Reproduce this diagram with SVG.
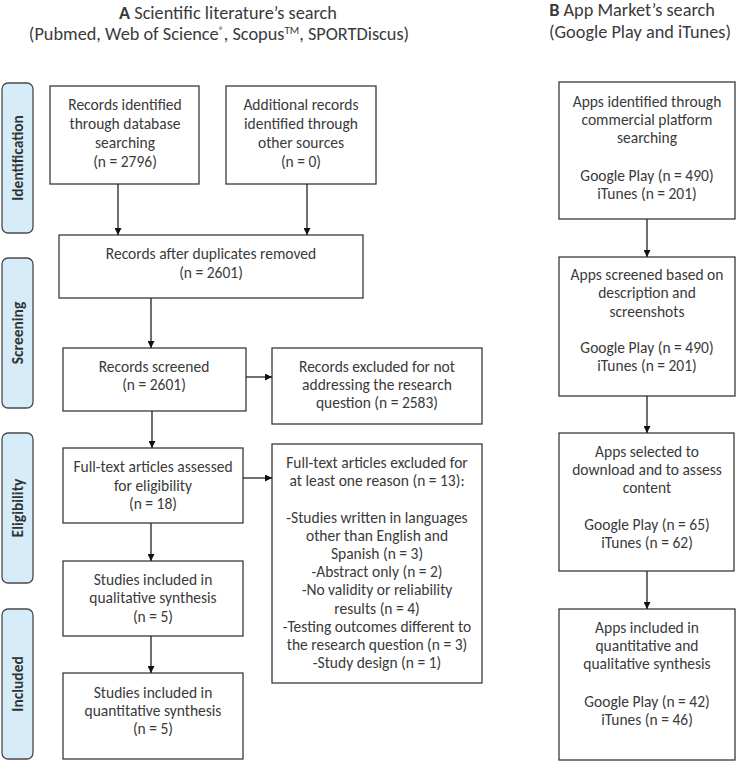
<svg xmlns="http://www.w3.org/2000/svg" width="738" height="762" viewBox="0 0 738 762">
<style>
text{font-family:Carlito,Lato,"Liberation Sans",sans-serif;fill:#3a3a3a;}
.t{font-size:18.3px;text-anchor:middle;}
.b{font-size:15.5px;text-anchor:middle;}
.lab{font-size:15.5px;font-weight:bold;text-anchor:middle;fill:#333;}
.box{fill:#fff;stroke:#3a3a3a;stroke-width:1.3;}
.side{fill:#d6ecf9;stroke:#4a4a4a;stroke-width:1.3;}
.con line{stroke:#222;stroke-width:1.3;marker-end:url(#ah);}
</style>
<defs>
<marker id="ah" viewBox="0 0 10 10" refX="10" refY="5" markerWidth="7" markerHeight="7" markerUnits="userSpaceOnUse" orient="auto">
<path d="M0,0 L10,5 L0,10 z" fill="#111"/>
</marker>
</defs>
<rect width="738" height="762" fill="#fff"/>

<g id="titleA">
<text class="t" x="228" y="19"><tspan font-weight="bold">A</tspan> Scientific literature’s search</text>
<text class="t" x="219" y="40">(Pubmed, Web of Science<tspan font-size="10" baseline-shift="super">®</tspan>, Scopus<tspan font-size="11" baseline-shift="super">TM</tspan>, SPORTDiscus)</text>
</g>
<g id="titleB">
<text class="t" x="632" y="16"><tspan font-weight="bold">B</tspan> App Market’s search</text>
<text class="t" x="640" y="38">(Google Play and iTunes)</text>
</g>

<g id="side-identification"><rect class="side" x="2" y="83" width="31" height="150" rx="6"/><text class="lab" transform="translate(23,158) rotate(-90)">Identification</text></g>
<g id="side-screening"><rect class="side" x="2" y="258" width="31" height="150" rx="6"/><text class="lab" transform="translate(23,333) rotate(-90)">Screening</text></g>
<g id="side-eligibility"><rect class="side" x="2" y="433" width="31" height="150" rx="6"/><text class="lab" transform="translate(23,508) rotate(-90)">Eligibility</text></g>
<g id="side-included"><rect class="side" x="2" y="609" width="31" height="150" rx="6"/><text class="lab" transform="translate(23,684) rotate(-90)">Included</text></g>

<g id="a-db">
<rect class="box" x="50" y="86" width="149" height="98"/>
<text class="b" x="125" y="110">Records identified</text>
<text class="b" x="125" y="129">through database</text>
<text class="b" x="125" y="148">searching</text>
<text class="b" x="125" y="167">(n = 2796)</text>
</g>
<g id="a-other">
<rect class="box" x="226" y="86" width="150" height="98"/>
<text class="b" x="301" y="110">Additional records</text>
<text class="b" x="301" y="129">identified through</text>
<text class="b" x="301" y="148">other sources</text>
<text class="b" x="301" y="167">(n = 0)</text>
</g>
<g id="a-dup">
<rect class="box" x="59" y="235" width="304" height="63"/>
<text class="b" x="211" y="259">Records after duplicates removed</text>
<text class="b" x="211" y="278">(n = 2601)</text>
</g>
<g id="a-screened">
<rect class="box" x="63" y="348" width="183" height="63"/>
<text class="b" x="154" y="372">Records screened</text>
<text class="b" x="154" y="390">(n = 2601)</text>
</g>
<g id="a-excl1">
<rect class="box" x="272" y="348" width="210" height="76"/>
<text class="b" x="377" y="372">Records excluded for not</text>
<text class="b" x="377" y="390">addressing the research</text>
<text class="b" x="377" y="408">question (n = 2583)</text>
</g>
<g id="a-fulltext">
<rect class="box" x="63" y="448" width="180" height="75"/>
<text class="b" x="153" y="472">Full-text articles assessed</text>
<text class="b" x="153" y="491">for eligibility</text>
<text class="b" x="153" y="509">(n = 18)</text>
</g>
<g id="a-excl2">
<rect class="box" x="272" y="444" width="210" height="239"/>
<text class="b" x="377" y="468">Full-text articles excluded  for</text>
<text class="b" x="377" y="486">at least one reason (n = 13):</text>
<text class="b" x="377" y="523">-Studies written in languages</text>
<text class="b" x="377" y="541">other than English and</text>
<text class="b" x="377" y="559">Spanish (n = 3)</text>
<text class="b" x="377" y="577">-Abstract only (n = 2)</text>
<text class="b" x="377" y="595">-No validity or reliability</text>
<text class="b" x="377" y="614">results (n = 4)</text>
<text class="b" x="377" y="632">-Testing outcomes different to</text>
<text class="b" x="377" y="650">the research question (n = 3)</text>
<text class="b" x="377" y="668">-Study design (n = 1)</text>
</g>
<g id="a-qual">
<rect class="box" x="63" y="561" width="180" height="75"/>
<text class="b" x="153" y="585">Studies included in</text>
<text class="b" x="153" y="603">qualitative synthesis</text>
<text class="b" x="153" y="622">(n = 5)</text>
</g>
<g id="a-quant">
<rect class="box" x="63" y="673" width="180" height="86"/>
<text class="b" x="153" y="698">Studies included in</text>
<text class="b" x="153" y="716">quantitative synthesis</text>
<text class="b" x="153" y="734">(n = 5)</text>
</g>

<g id="b-identified">
<rect class="box" x="559" y="82" width="176" height="137"/>
<text class="b" x="647" y="107">Apps identified through</text>
<text class="b" x="647" y="125">commercial platform</text>
<text class="b" x="647" y="143">searching</text>
<text class="b" x="647" y="181">Google Play (n = 490)</text>
<text class="b" x="647" y="199">iTunes (n = 201)</text>
</g>
<g id="b-screened">
<rect class="box" x="559" y="257" width="176" height="139"/>
<text class="b" x="647" y="280">Apps screened based on</text>
<text class="b" x="647" y="298">description and</text>
<text class="b" x="647" y="317">screenshots</text>
<text class="b" x="647" y="353">Google Play (n = 490)</text>
<text class="b" x="647" y="371">iTunes (n = 201)</text>
</g>
<g id="b-selected">
<rect class="box" x="559" y="433" width="175" height="138"/>
<text class="b" x="647" y="457">Apps selected to</text>
<text class="b" x="647" y="475">download and to assess</text>
<text class="b" x="647" y="493">content</text>
<text class="b" x="647" y="530">Google Play (n = 65)</text>
<text class="b" x="647" y="548">iTunes (n = 62)</text>
</g>
<g id="b-included">
<rect class="box" x="559" y="609" width="176" height="151"/>
<text class="b" x="647" y="633">Apps included in</text>
<text class="b" x="647" y="651">quantitative and</text>
<text class="b" x="647" y="669">qualitative synthesis</text>
<text class="b" x="647" y="707">Google Play (n = 42)</text>
<text class="b" x="647" y="725">iTunes (n = 46)</text>
</g>

<g id="connectors" class="con">
<line x1="118" y1="184" x2="118" y2="235"/>
<line x1="307" y1="184" x2="307" y2="235"/>
<line x1="151" y1="298" x2="151" y2="348"/>
<line x1="246" y1="377" x2="272" y2="377"/>
<line x1="152" y1="411" x2="152" y2="448"/>
<line x1="243" y1="478" x2="272" y2="478"/>
<line x1="151" y1="523" x2="151" y2="561"/>
<line x1="151" y1="636" x2="151" y2="673"/>
<line x1="647" y1="219" x2="647" y2="257"/>
<line x1="647" y1="396" x2="647" y2="433"/>
<line x1="647" y1="571" x2="647" y2="609"/>
</g>
</svg>
